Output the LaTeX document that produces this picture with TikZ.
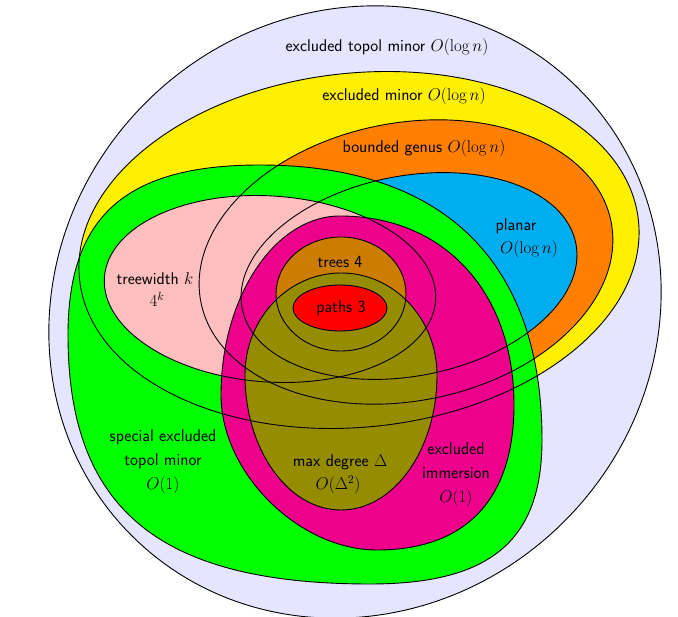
\RequirePackage{fix-cm}
\documentclass[tikz,border=0pt]{standalone}
\usepackage{fontspec}
\definecolor{lav}{RGB}{229,229,255}
\definecolor{cyanb}{RGB}{0,174,239}
\definecolor{magb}{RGB}{236,0,140}
\definecolor{treeb}{RGB}{204,125,0}
\definecolor{oliveb}{RGB}{150,140,0}
\definecolor{pinkb}{RGB}{255,191,191}
\definecolor{yel}{RGB}{255,240,0}
\definecolor{orng}{RGB}{255,128,0}
\definecolor{grn}{RGB}{0,255,0}
\newcommand\shOuter{(355,312) ellipse[x radius=316pt,y radius=296pt,rotate=45]}
\newcommand\shYellow{(359,250) ellipse[x radius=281pt,y radius=177pt,rotate=6]}
\newcommand\shOrange{(406,262) ellipse[x radius=209pt,y radius=139pt,rotate=11]}
\newcommand\shBlue{(409,276) ellipse[x radius=170pt,y radius=100pt,rotate=11]}
\newcommand\shGreen{(260,165) .. controls (443,165) and (542,261) .. (542,440) .. controls (542,541) and (490,584) .. (370,584) .. controls (159,584) and (68,509) .. (68,335) .. controls (68,216) and (126,165) .. (260,165) -- cycle}
\newcommand\shPink{(270,289) ellipse[x radius=166pt,y radius=93pt,rotate=-4]}
\newcommand\shMag{(340,216) .. controls (444,216) and (514,292) .. (514,405) .. controls (514,499) and (466,550) .. (377,550) .. controls (299,550) and (221,473) .. (221,395) .. controls (221,297) and (275,216) .. (340,216) -- cycle}
\newcommand\shTrees{(341,294) ellipse[x radius=65pt,y radius=57pt]}
\newcommand\shOlive{(437,375) arc[start angle=0,end angle=180,x radius=96pt,y radius=102pt] arc[start angle=180,end angle=360,x radius=96pt,y radius=135pt] -- cycle}
\newcommand\shRed{(340,308) ellipse[x radius=47pt,y radius=23pt]}
\begin{document}
\begin{tikzpicture}[x=1pt,y=-1pt,
  lbl/.style={font=\sffamily\fontsize{17}{24}\selectfont, align=center, inner sep=0pt},
  outline/.style={draw=black, line width=0.9pt}]
\useasboundingbox (0,0) rectangle (678,617);
% fills
\fill[lav] \shOuter;
\fill[yel] \shYellow;
\fill[orng] \shOrange;
\fill[cyanb] \shBlue;
\fill[grn] \shGreen;
\fill[pinkb] \shPink;
\fill[magb] \shMag;
\fill[treeb] \shTrees;
\fill[oliveb] \shOlive;
\fill[red] \shRed;
% outlines
\draw[outline] \shOuter;
\draw[outline] \shYellow;
\draw[outline] \shOrange;
\draw[outline] \shBlue;
\draw[outline] \shGreen;
\draw[outline] \shPink;
\draw[outline] \shMag;
\draw[outline] \shTrees;
\draw[outline] \shOlive;
\draw[outline] \shRed;
% labels
\node[lbl] (etm) at (387,47) {excluded topol minor $O(\log n)$};
\node[lbl] (em) at (404,96) {excluded minor $O(\log n)$};
\node[lbl] (bg) at (424,148) {bounded genus $O(\log n)$};
\node[lbl] (pl) at (516,226) {planar};
\node[lbl] (plo) at (529,249) {$O(\log n)$};
\node[lbl] (tw) at (155,279) {treewidth $k$};
\node[lbl] (two) at (157,299) {$4^k$};
\node[lbl] (tr) at (340,262) {trees 4};
\node[lbl] (pa) at (341,308) {paths 3};
\node[lbl] (setm) at (163,462) {special excluded\\topol minor\\$O(1)$};
\node[lbl] (md) at (340,462) {max degree $\Delta$};
\node[lbl] (mdo) at (338,485) {$O(\Delta^2)$};
\node[lbl] (ei) at (456,475) {excluded\\immersion\\$O(1)$};
\end{tikzpicture}
\end{document}
